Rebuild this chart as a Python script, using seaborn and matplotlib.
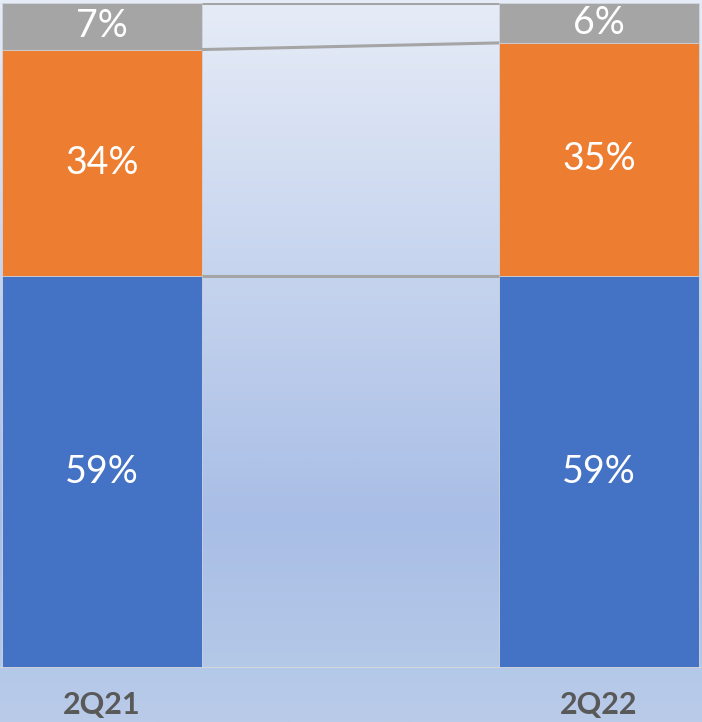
import matplotlib.pyplot as plt
import matplotlib.colors as mcolors
import seaborn as sns
import pandas as pd
import numpy as np

# data (share of total, %)
quarters = ["2Q21", "2Q22"]
blue_vals = [59, 59]
orange_vals = [34, 35]
grey_vals = [7, 6]

blue = "#4472c4"
orange = "#ed7d31"
grey = "#a5a5a5"

sns.set_theme(style="white")
plt.rcParams['font.family'] = ['Lato', 'DejaVu Sans']

fig = plt.figure(figsize=(7.02, 7.22), dpi=100)

# gradient background behind everything
bg = fig.add_axes([0, 0, 1, 1], zorder=0)
grad_cmap = mcolors.LinearSegmentedColormap.from_list(
    "bg", [(0.0, "#e6ecf7"), (0.72, "#a9bee6"), (0.925, "#b4c8e8"), (1.0, "#bacbe9")])
bg.imshow(np.linspace(0, 1, 400).reshape(-1, 1), aspect="auto", cmap=grad_cmap,
          extent=[0, 1, 0, 1], origin="upper")
bg.set_axis_off()

ax = fig.add_axes([0, 54 / 722, 1, 665 / 722], zorder=1)
ax.patch.set_alpha(0)

df = pd.DataFrame({"quarter": quarters,
                   "blue": blue_vals, "orange": orange_vals, "grey": grey_vals})
df["c_orange"] = df["blue"] + df["orange"]
df["c_grey"] = df["c_orange"] + df["grey"]

w = 0.402
# stacked look: draw cumulative totals from tallest down
sns.barplot(data=df, x="quarter", y="c_grey", color=grey, width=w, saturation=1,
            edgecolor="#d0d6e0", linewidth=0.6, ax=ax)
sns.barplot(data=df, x="quarter", y="c_orange", color=orange, width=w, saturation=1,
            edgecolor="#d0d6e0", linewidth=0.6, ax=ax)
sns.barplot(data=df, x="quarter", y="blue", color=blue, width=w, saturation=1,
            edgecolor="#d0d6e0", linewidth=0.6, ax=ax)

# series lines between the bars
for col in ["blue", "c_orange", "c_grey"]:
    ax.plot([w / 2, 1 - w / 2], [df[col][0], df[col][1]], color=grey, lw=2.2,
            solid_capstyle="butt", zorder=3)

# segment labels
for i in range(len(quarters)):
    b, o, g = df["blue"][i], df["orange"][i], df["grey"][i]
    for yc, v in [(b / 2, b), (b + o / 2, o), (b + o + g / 2, g)]:
        ax.text(i, yc, f"{v}%", ha="center", va="center", color="white", fontsize=27)

ax.axhline(0, color="#d9d9d9", lw=2, zorder=4)
ax.set_xlim(-0.205, 1.207)
ax.set_ylim(0, 100)
ax.set_axis_off()

# category labels in the bottom strip
for i, q in enumerate(quarters):
    ax.text(i, -5.6, q, ha="center", va="center", color="#595959",
            fontsize=22, fontweight="bold", clip_on=False)

fig.savefig("out.png", dpi=100)
